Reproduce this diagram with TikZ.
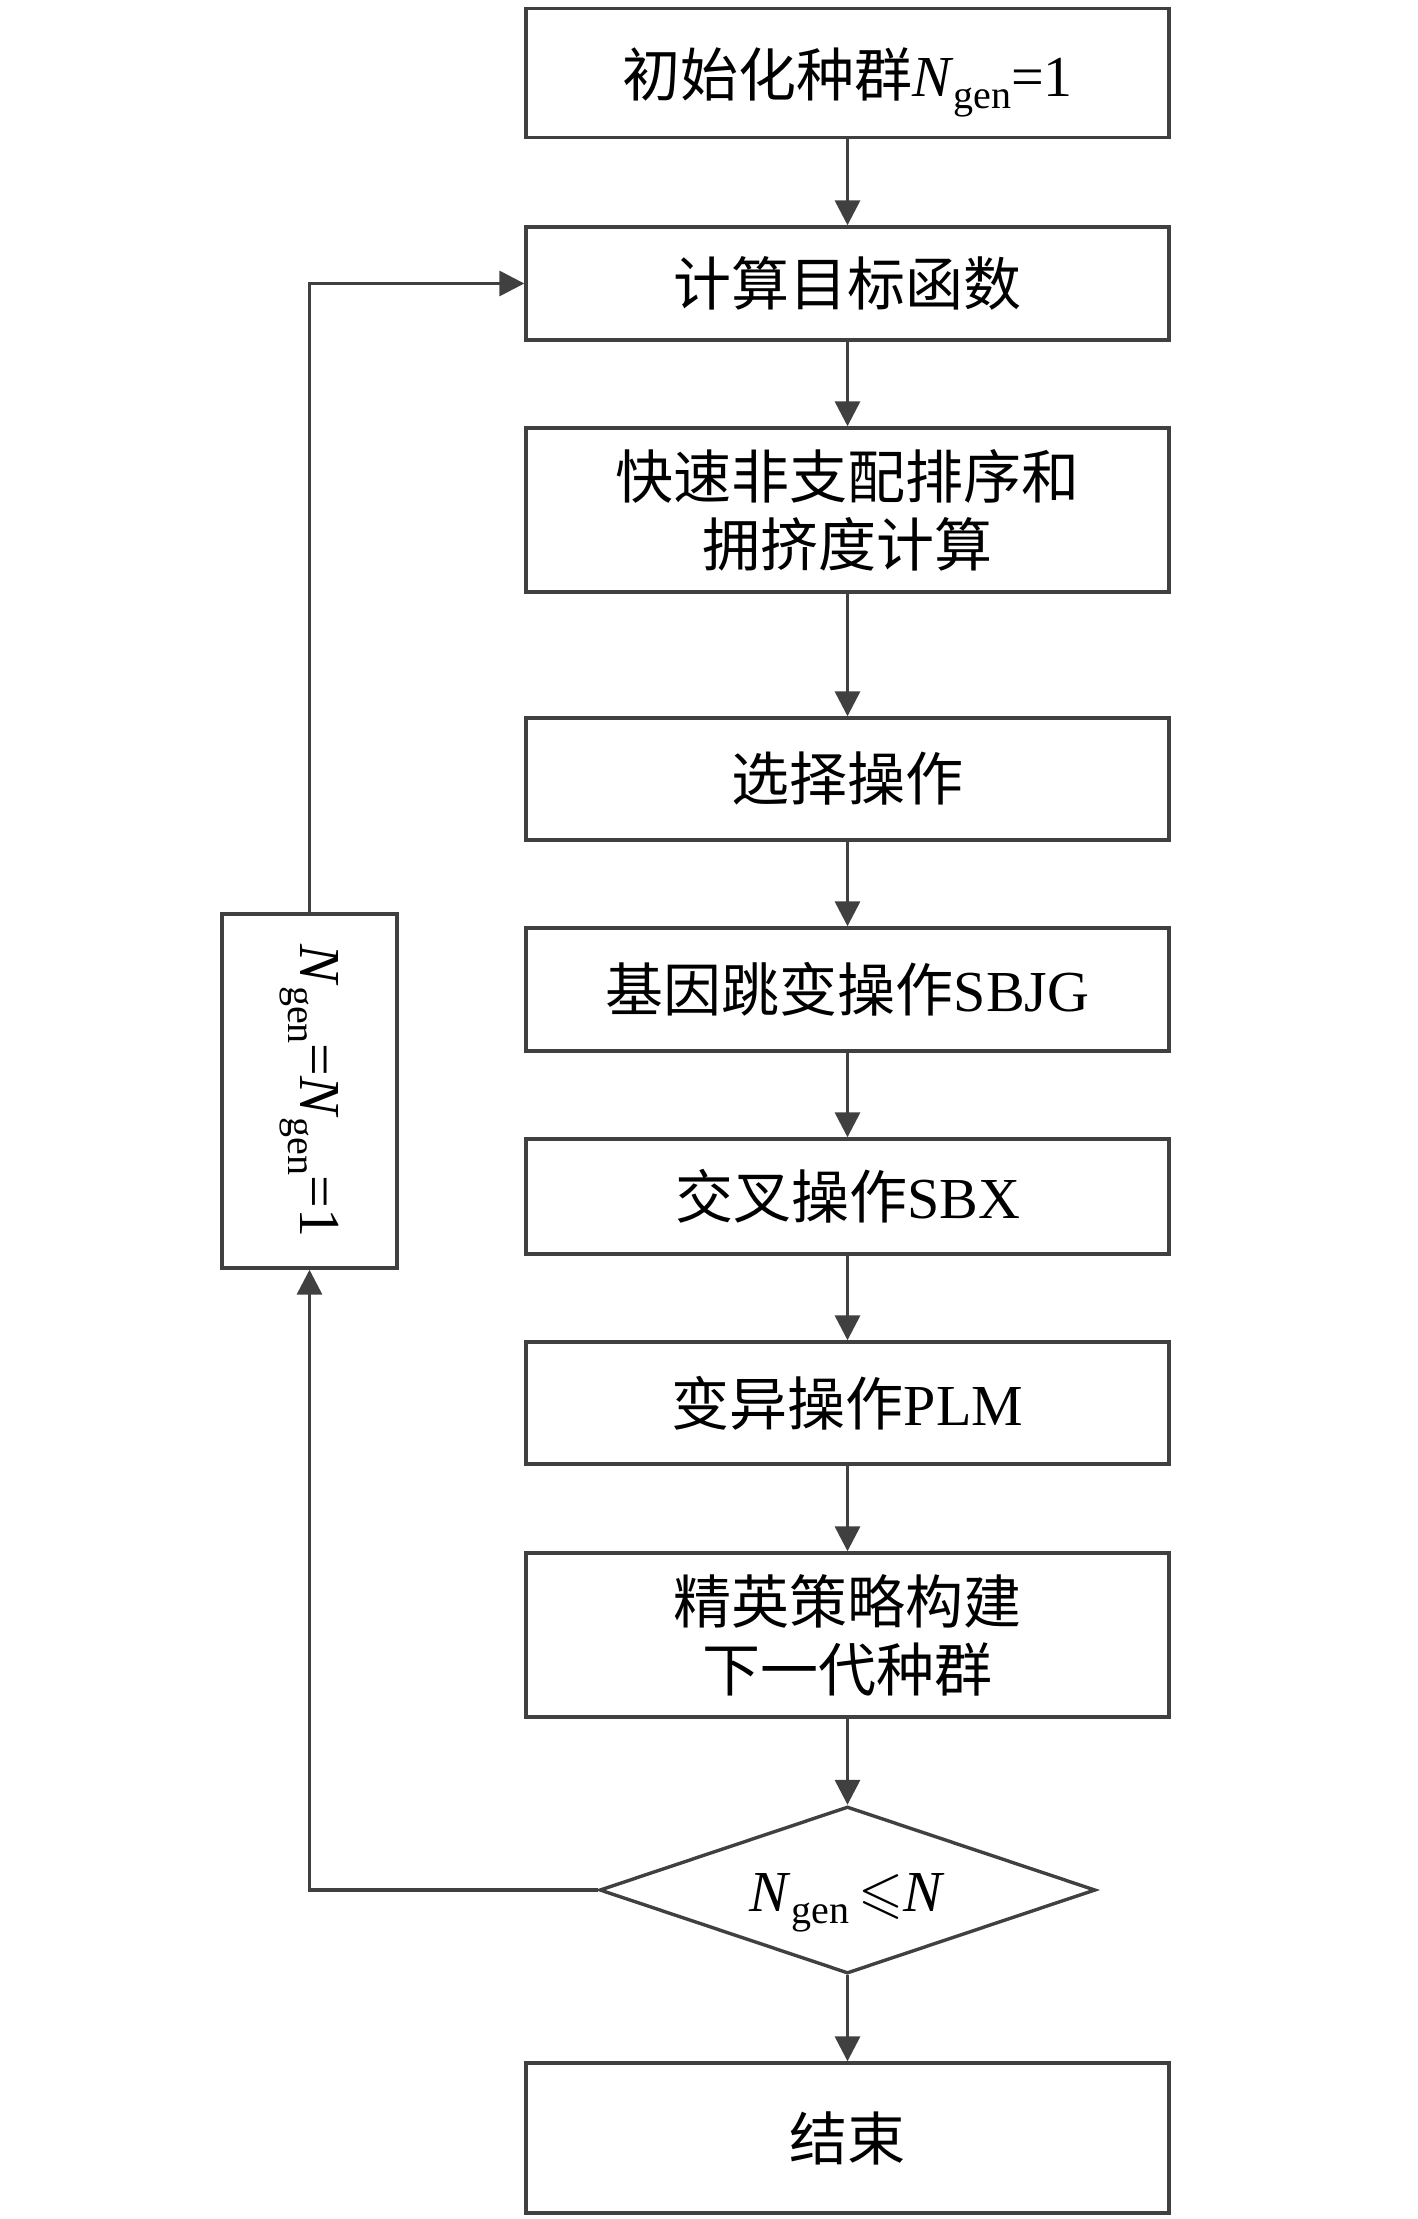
\documentclass[tikz,border=0pt]{standalone}
\usepackage{fontspec}
\usepackage{amssymb}
\setmainfont{Liberation Serif}
\newfontfamily\cjk{Noto Sans CJK SC}
\usetikzlibrary{arrows.meta,shapes.geometric}
\newcommand{\Ngen}{\textit{N}\raisebox{-0.45ex}{\fontsize{20}{20}\selectfont gen}}
\definecolor{lc}{HTML}{404040}
\begin{document}
\begin{tikzpicture}[x=0.5pt,y=-0.5pt,
  box/.style={draw=lc,line width=1.7pt,minimum width=321.5pt,align=center,inner sep=0pt,
    font=\fontsize{29}{34}\selectfont},
  arr/.style={draw=lc,line width=1.7pt,-{Triangle[length=12.5pt,width=12.5pt]}},
  ln/.style={draw=lc,line width=1.7pt}]
\useasboundingbox (0,0) rectangle (1417,2219);
\node[box,text height=25pt,text depth=1pt,minimum height=64.5pt] (b1) at (847.5,73) {{\cjk 初始化种群}\Ngen=1};
\node[box,minimum height=56.5pt] (b2) at (847.5,283.5) {\cjk 计算目标函数};
\node[box,minimum height=82pt] (b3) at (847.5,510) {\cjk 快速非支配排序和\\\cjk 拥挤度计算};
\node[box,minimum height=61pt] (b4) at (847.5,779) {\cjk 选择操作};
\node[box,minimum height=61.5pt] (b5) at (847.5,989.5) {{\cjk 基因跳变操作}SBJG};
\node[box,minimum height=57.5pt] (b6) at (847.5,1196.5) {{\cjk 交叉操作}SBX};
\node[box,minimum height=61pt] (b7) at (847.5,1403) {{\cjk 变异操作}PLM};
\node[box,minimum height=82pt] (b8) at (847.5,1635) {\cjk 精英策略构建\\\cjk 下一代种群};
\node[diamond,aspect=2.97,draw=lc,line width=1.7pt,inner sep=0pt,minimum width=248pt,minimum height=83.5pt,
  text height=21pt,text depth=0pt,font=\fontsize{29}{34}\selectfont] (d) at (847.5,1890) {\Ngen\,$\leqslant$\textit{N}};
\node[box,minimum height=75pt] (b9) at (847.5,2138) {\cjk 结束};
\node[draw=lc,line width=1.7pt,minimum width=87.5pt,minimum height=177pt,inner sep=0pt] (side) at (309.5,1091) {};
\node[rotate=-90,font=\fontsize{29}{34}\selectfont] (sidet) at (side.center) {\Ngen=\Ngen=1};
\draw[arr] (b1) -- (b2);
\draw[arr] (b2) -- (b3);
\draw[arr] (b3) -- (b4);
\draw[arr] (b4) -- (b5);
\draw[arr] (b5) -- (b6);
\draw[arr] (b6) -- (b7);
\draw[arr] (b7) -- (b8);
\draw[arr] (b8) -- (d);
\draw[arr] (d) -- (b9);
\draw[arr] (d.west) -| (side.south);
\draw[arr] (side.north) |- (b2.west);
\end{tikzpicture}
\end{document}
